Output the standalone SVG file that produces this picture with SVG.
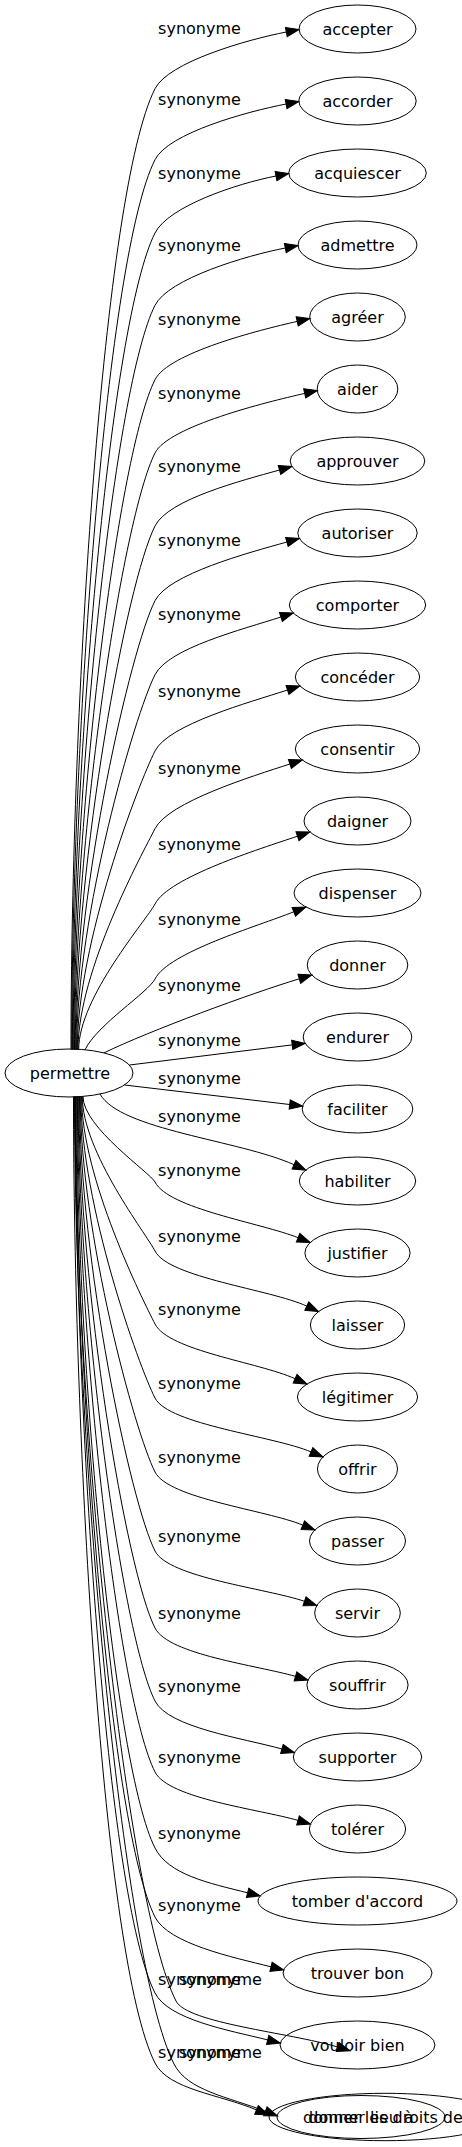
<svg xmlns="http://www.w3.org/2000/svg" width="462" height="2147" viewBox="0 0 462 2147">
<style>
text{font-family:"DejaVu Sans",sans-serif;font-size:16px;fill:#000;text-anchor:middle}
.n ellipse{fill:none;stroke:#000;stroke-width:1}
.e path{fill:none;stroke:#000;stroke-width:1;marker-end:url(#ah)}
</style>
<defs>
<marker id="ah" markerUnits="userSpaceOnUse" viewBox="0 0 13 9.4" refX="0" refY="4.7" markerWidth="13" markerHeight="9.4" orient="auto" overflow="visible"><path d="M0,0 L13,4.7 L0,9.4 z" fill="#000" stroke="#000" stroke-width="1"/></marker>
</defs>
<rect width="462" height="2147" fill="#fff"/>
<g id="connectors">
<g class="e"><path d="M71,1049.5 C71,703.6 103.1,191.3 155,88.7 C168.5,62 247.1,39.6 286.3,32"/><text x="199.5" y="34.2">synonyme</text></g>
<g class="e"><path d="M71.7,1049.5 C71.7,729.2 107,254.7 155,159.7 C168.5,133 246.9,111.6 286.1,104"/><text x="199.5" y="105.2">synonyme</text></g>
<g class="e"><path d="M72.4,1049.5 C72.4,755.6 110.9,320.2 155,233 C168.5,206.3 236.8,183.6 276,176"/><text x="199.5" y="178.5">synonyme</text></g>
<g class="e"><path d="M73.1,1049.5 C73.1,781.6 114.8,384.8 155,305.3 C168.5,278.6 246.1,255.6 285.3,248"/><text x="199.5" y="250.8">synonyme</text></g>
<g class="e"><path d="M73.8,1049.5 C73.8,808.4 118.8,451.2 155,379.7 C168.5,353 258.4,330.2 297.2,321.4"/><text x="199.5" y="325.2">synonyme</text></g>
<g class="e"><path d="M74.5,1049.5 C74.5,834.8 122.8,516.7 155,453 C168.5,426.3 265.9,402.2 304.7,393.4"/><text x="199.5" y="398.5">synonyme</text></g>
<g class="e"><path d="M75.2,1049.5 C75.2,861 126.7,581.9 155,526 C168.5,499.3 241.1,480.8 279.5,470"/><text x="199.5" y="471.5">synonyme</text></g>
<g class="e"><path d="M75.9,1049.5 C75.9,887.9 130.8,648.6 155,600.7 C168.5,574 248.5,552.8 286.9,542"/><text x="199.5" y="546.2">synonyme</text></g>
<g class="e"><path d="M76.6,1049.5 C76.6,914.6 134.8,714.7 155,674.7 C168.5,648 242.9,629.4 280.9,617"/><text x="199.5" y="620.2">synonyme</text></g>
<g class="e"><path d="M77.3,1049.5 C77.3,942 138.9,782.9 155,751 C168.5,724.3 249.5,702.4 287.5,690"/><text x="199.5" y="696.5">synonyme</text></g>
<g class="e"><path d="M78,1049.5 C78,970 143.1,852.3 155,828.7 C168.5,802 251.9,776.4 289.9,764"/><text x="199.5" y="774.2">synonyme</text></g>
<g class="e"><path d="M78.7,1049.5 C78.7,997.1 147.1,919.5 155,904 C168.5,877.3 259.5,849 297.5,836.2"/><text x="199.5" y="849.5">synonyme</text></g>
<g class="e"><path d="M85,1049.8 C97,1024.8 148.2,992.4 155,979 C168.5,952.3 256.6,926.6 293.8,911.8"/><text x="199.5" y="924.5">synonyme</text></g>
<g class="e"><path d="M104,1052.9 C149,1030.9 251.3,993.3 299.3,978.8"/><text x="199.5" y="991.2">synonyme</text></g>
<g class="e"><path d="M129.5,1065 L292.2,1044.9"/><text x="199.5" y="1045.5">synonyme</text></g>
<g class="e"><path d="M124.5,1085 L289.7,1104.5"/><text x="199.5" y="1084">synonyme</text></g>
<g class="e"><path d="M100,1094 C120,1130 239.4,1140.1 294,1164.7"/><text x="199.5" y="1122">synonyme</text></g>
<g class="e"><path d="M83,1096.5 C83,1127.3 150.4,1172.9 155,1182 C168.5,1208.7 261,1222.9 298.1,1237.7"/><text x="199.5" y="1175.5">synonyme</text></g>
<g class="e"><path d="M82.3,1096.5 C82.3,1152.1 146.7,1234.5 155,1251 C168.5,1277.7 270.5,1289.4 306.8,1306.1"/><text x="199.5" y="1241.5">synonyme</text></g>
<g class="e"><path d="M81.6,1096.5 C81.6,1178.4 142.7,1299.7 155,1324 C168.5,1350.7 258.6,1362.3 295.1,1378.7"/><text x="199.5" y="1314.5">synonyme</text></g>
<g class="e"><path d="M80.9,1096.5 C80.9,1205 138.7,1365.8 155,1398 C168.5,1424.7 274.2,1436.1 311,1451.9"/><text x="199.5" y="1388.5">synonyme</text></g>
<g class="e"><path d="M80.2,1096.5 C80.2,1231.7 134.7,1431.9 155,1472 C168.5,1498.7 265.8,1509.9 302.8,1525.1"/><text x="199.5" y="1462.5">synonyme</text></g>
<g class="e"><path d="M79.5,1096.5 C79.5,1260.1 130.5,1502.5 155,1551 C168.5,1577.7 266.6,1588.4 304.5,1601.3"/><text x="199.5" y="1541.5">synonyme</text></g>
<g class="e"><path d="M78.8,1096.5 C78.8,1287.8 126.3,1571.2 155,1628 C168.5,1654.7 257.1,1665.3 295.5,1676.4"/><text x="199.5" y="1618.5">synonyme</text></g>
<g class="e"><path d="M78.1,1096.5 C78.1,1314.1 122.4,1636.4 155,1701 C168.5,1727.7 243.4,1738.2 281.9,1749"/><text x="199.5" y="1691.5">synonyme</text></g>
<g class="e"><path d="M77.4,1096.5 C77.4,1339.7 118.5,1699.9 155,1772 C168.5,1798.7 259.6,1809.3 298,1820.4"/><text x="199.5" y="1762.5">synonyme</text></g>
<g class="e"><path d="M76.7,1096.5 C76.7,1367 114.4,1767.7 155,1848 C168.5,1874.7 208.8,1883.1 247.6,1892.8"/><text x="199.5" y="1838.5">synonyme</text></g>
<g class="e"><path d="M76,1096.5 C76,1391.9 110.7,1829.4 155,1917 C168.5,1943.7 232.2,1957.1 271,1966.8"/><text x="199.5" y="1910.5">synonyme</text></g>
<g class="e"><path d="M75.3,1096.5 C75.3,1419.2 106.6,1897.3 155,1993 C168.5,2019.7 228.9,2030.3 267.7,2039.9"/><text x="199.5" y="1984.5">synonyme</text></g>
<g class="e"><path d="M75,1096.5 C75,1422 127.2,1904.4 176,2001 C187.3,2023.3 289.7,2032.6 337.6,2047"/><text x="220.5" y="1984.5">synonyme</text></g>
<g class="e"><path d="M73.5,1096.5 C73.5,1444.5 102.8,1959.8 155,2063 C168.5,2089.7 219.7,2094.3 256.5,2109.9"/><text x="199.5" y="2057.5">synonyme</text></g>
<g class="e"><path d="M74.5,1096.5 C74.5,1444.8 121.8,1960.7 174,2064 C187.5,2090.7 228.2,2096.9 265.4,2111.3"/><text x="220.5" y="2057.5">synonyme</text></g>
</g>
<g id="n-permettre" class="n"><ellipse cx="69" cy="1073" rx="64" ry="24"/><text x="70" y="1078.5">permettre</text></g>
<g id="n-accepter" class="n"><ellipse cx="357.5" cy="29" rx="58.5" ry="24"/><text x="357.5" y="34.5">accepter</text></g>
<g id="n-accorder" class="n"><ellipse cx="357.5" cy="101" rx="58.7" ry="24"/><text x="357.5" y="106.5">accorder</text></g>
<g id="n-acquiescer" class="n"><ellipse cx="357.5" cy="173" rx="68.8" ry="24"/><text x="357.5" y="178.5">acquiescer</text></g>
<g id="n-admettre" class="n"><ellipse cx="357.5" cy="245" rx="59.5" ry="24"/><text x="357.5" y="250.5">admettre</text></g>
<g id="n-agreer" class="n"><ellipse cx="357.5" cy="317" rx="47.8" ry="24"/><text x="357.5" y="322.5">agréer</text></g>
<g id="n-aider" class="n"><ellipse cx="357.5" cy="389" rx="40.3" ry="24"/><text x="357.5" y="394.5">aider</text></g>
<g id="n-approuver" class="n"><ellipse cx="357.5" cy="461" rx="67.3" ry="24"/><text x="357.5" y="466.5">approuver</text></g>
<g id="n-autoriser" class="n"><ellipse cx="357.5" cy="533" rx="59.7" ry="24"/><text x="357.5" y="538.5">autoriser</text></g>
<g id="n-comporter" class="n"><ellipse cx="357.5" cy="605" rx="68.2" ry="24"/><text x="357.5" y="610.5">comporter</text></g>
<g id="n-conceder" class="n"><ellipse cx="357.5" cy="677" rx="62.2" ry="24"/><text x="357.5" y="682.5">concéder</text></g>
<g id="n-consentir" class="n"><ellipse cx="357.5" cy="749" rx="62.2" ry="24"/><text x="357.5" y="754.5">consentir</text></g>
<g id="n-daigner" class="n"><ellipse cx="357.5" cy="821" rx="53.5" ry="24"/><text x="357.5" y="826.5">daigner</text></g>
<g id="n-dispenser" class="n"><ellipse cx="357.5" cy="893" rx="63.5" ry="24"/><text x="357.5" y="898.5">dispenser</text></g>
<g id="n-donner" class="n"><ellipse cx="357.5" cy="965" rx="50.3" ry="24"/><text x="357.5" y="970.5">donner</text></g>
<g id="n-endurer" class="n"><ellipse cx="357.5" cy="1037" rx="54.3" ry="24"/><text x="357.5" y="1042.5">endurer</text></g>
<g id="n-faciliter" class="n"><ellipse cx="357.5" cy="1109" rx="55.3" ry="24"/><text x="357.5" y="1114.5">faciliter</text></g>
<g id="n-habiliter" class="n"><ellipse cx="357.5" cy="1181" rx="58.2" ry="24"/><text x="357.5" y="1186.5">habiliter</text></g>
<g id="n-justifier" class="n"><ellipse cx="357.5" cy="1253" rx="52.6" ry="24"/><text x="357.5" y="1258.5">justifier</text></g>
<g id="n-laisser" class="n"><ellipse cx="357.5" cy="1325" rx="47.1" ry="24"/><text x="357.5" y="1330.5">laisser</text></g>
<g id="n-legitimer" class="n"><ellipse cx="357.5" cy="1397" rx="60.1" ry="24"/><text x="357.5" y="1402.5">légitimer</text></g>
<g id="n-offrir" class="n"><ellipse cx="357.5" cy="1469" rx="40" ry="24"/><text x="357.5" y="1474.5">offrir</text></g>
<g id="n-passer" class="n"><ellipse cx="357.5" cy="1541" rx="48" ry="24"/><text x="357.5" y="1546.5">passer</text></g>
<g id="n-servir" class="n"><ellipse cx="357.5" cy="1613" rx="42.8" ry="24"/><text x="357.5" y="1618.5">servir</text></g>
<g id="n-souffrir" class="n"><ellipse cx="357.5" cy="1685" rx="50.6" ry="24"/><text x="357.5" y="1690.5">souffrir</text></g>
<g id="n-supporter" class="n"><ellipse cx="357.5" cy="1757" rx="64.2" ry="24"/><text x="357.5" y="1762.5">supporter</text></g>
<g id="n-tolerer" class="n"><ellipse cx="357.5" cy="1829" rx="48.1" ry="24"/><text x="357.5" y="1834.5">tolérer</text></g>
<g id="n-tomber-daccord" class="n"><ellipse cx="357.5" cy="1901" rx="99.5" ry="24"/><text x="357.5" y="1906.5">tomber d'accord</text></g>
<g id="n-trouver-bon" class="n"><ellipse cx="357.5" cy="1973" rx="74.5" ry="24"/><text x="357.5" y="1978.5">trouver bon</text></g>
<g id="n-vouloir-bien" class="n"><ellipse cx="357.5" cy="2045" rx="77.5" ry="24"/><text x="357.5" y="2050.5">vouloir bien</text></g>
<g id="n-donner-les-droits-de" class="n"><ellipse cx="385" cy="2117" rx="116" ry="23.7"/><text x="383" y="2122.5">donner les droits de</text></g>
<g id="n-donner-lieu-a" class="n"><ellipse cx="361" cy="2117" rx="84" ry="21.5"/><text x="361" y="2122.5">donner lieu à</text></g>
</svg>
